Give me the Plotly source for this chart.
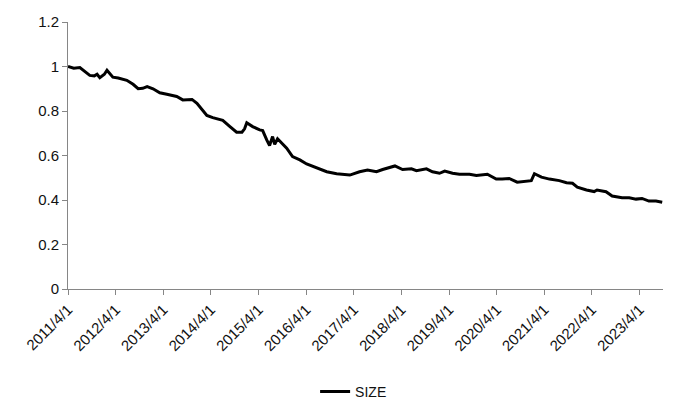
import plotly.graph_objects as go

dates = [
    "2011-04-01", "2011-05-15", "2011-07-01", "2011-08-10", "2011-09-15", "2011-10-20",
    "2011-11-10", "2011-12-01", "2012-01-05", "2012-01-25", "2012-02-15", "2012-03-10",
    "2012-04-20", "2012-06-25", "2012-08-12", "2012-09-20", "2012-10-25", "2012-11-28",
    "2013-01-12", "2013-03-05", "2013-04-28", "2013-07-13", "2013-08-28", "2013-11-07",
    "2013-12-15", "2014-01-20", "2014-03-01", "2014-04-15", "2014-07-01", "2014-08-25",
    "2014-10-15", "2014-11-25", "2014-12-15", "2015-01-01", "2015-02-15", "2015-04-10",
    "2015-05-03", "2015-06-03", "2015-06-25", "2015-07-18", "2015-08-03", "2015-08-25",
    "2015-09-25", "2015-11-03", "2015-12-18", "2016-02-12", "2016-04-04", "2016-06-20",
    "2016-09-05", "2016-11-20", "2017-02-05", "2017-03-01", "2017-05-15", "2017-07-15",
    "2017-09-22", "2017-11-08", "2018-02-10", "2018-04-10", "2018-06-17", "2018-07-25",
    "2018-10-10", "2018-11-25", "2019-01-18", "2019-02-27", "2019-04-28", "2019-06-20",
    "2019-09-05", "2019-10-28", "2020-01-20", "2020-03-28", "2020-05-13", "2020-07-05",
    "2020-09-05", "2020-11-15", "2020-12-22", "2021-01-15", "2021-03-10", "2021-05-10",
    "2021-07-25", "2021-09-18", "2021-11-03", "2021-12-10", "2022-02-18", "2022-04-18",
    "2022-05-10", "2022-07-18", "2022-09-03", "2022-11-18", "2023-01-12", "2023-03-05",
    "2023-04-20", "2023-06-12", "2023-08-05", "2023-09-22",
]
size_values = [
    1.000, 0.992, 0.995, 0.975, 0.960, 0.958,
    0.965, 0.950, 0.965, 0.983, 0.970, 0.952,
    0.948, 0.938, 0.920, 0.900, 0.902, 0.910,
    0.900, 0.882, 0.875, 0.865, 0.850, 0.852,
    0.835, 0.810, 0.780, 0.770, 0.758, 0.730,
    0.705, 0.705, 0.720, 0.747, 0.730, 0.715,
    0.712, 0.670, 0.645, 0.685, 0.650, 0.675,
    0.655, 0.633, 0.595, 0.580, 0.562, 0.545,
    0.527, 0.518, 0.515, 0.512, 0.527, 0.535,
    0.527, 0.537, 0.553, 0.537, 0.540, 0.532,
    0.540, 0.527, 0.520, 0.530, 0.520, 0.516,
    0.516, 0.510, 0.516, 0.494, 0.494, 0.497,
    0.480, 0.485, 0.487, 0.518, 0.503, 0.494,
    0.487, 0.478, 0.475, 0.458, 0.445, 0.438,
    0.445, 0.437, 0.418, 0.410, 0.410, 0.404,
    0.407, 0.395, 0.395, 0.390,
]

tick_dates = [f"{y}-04-01" for y in range(2011, 2024)]
tick_labels = [f"{y}/4/1" for y in range(2011, 2024)]
y_ticks = [0, 0.2, 0.4, 0.6, 0.8, 1.0, 1.2]
y_labels = ["0", "0.2", "0.4", "0.6", "0.8", "1", "1.2"]

fig = go.Figure()
fig.add_trace(go.Scatter(
    x=dates, y=size_values, mode="lines", name="SIZE",
    line=dict(color="black", width=3),
))

axis_color = "#868686"
fig.update_layout(
    width=700, height=420,
    margin=dict(l=68, r=37, t=22, b=131),
    paper_bgcolor="white", plot_bgcolor="white",
    font=dict(family="Liberation Sans, Arial, sans-serif", size=14, color="#111"),
    showlegend=True,
    legend=dict(orientation="h", x=0.48, xanchor="center", y=-0.385, yanchor="middle",
                font=dict(size=14), itemwidth=30),
    xaxis=dict(
        type="date", range=["2011-04-01", "2023-09-28"],
        tickvals=tick_dates, ticktext=tick_labels, tickangle=-45,
        showline=True, linecolor=axis_color, linewidth=1,
        ticks="outside", tickcolor=axis_color, ticklen=5,
        showgrid=False, zeroline=False,
        tickfont=dict(size=15),
    ),
    yaxis=dict(
        range=[0, 1.2], tickvals=y_ticks, ticktext=y_labels,
        showline=True, linecolor=axis_color, linewidth=1,
        ticks="outside", tickcolor=axis_color, ticklen=5,
        showgrid=False, zeroline=False,
        tickfont=dict(size=15),
    ),
)

fig.write_html("out.html")
